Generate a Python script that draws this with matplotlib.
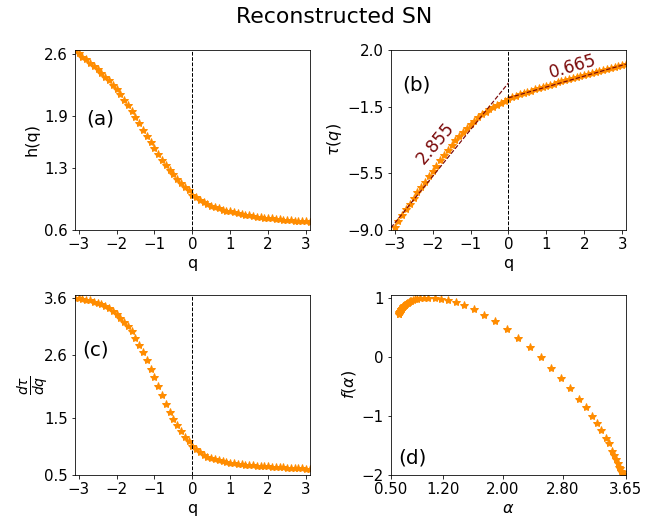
import numpy as np
import matplotlib
matplotlib.use("Agg")
import matplotlib.pyplot as plt

# moments q
q = [-3.1, -3.0, -2.9, -2.8, -2.7, -2.6, -2.5, -2.4, -2.3, -2.2, -2.1,
     -2.0, -1.9, -1.8, -1.7, -1.6, -1.5, -1.4, -1.3, -1.2, -1.1,
     -1.0, -0.9, -0.8, -0.7, -0.6, -0.5, -0.4, -0.3, -0.2, -0.1,
     0.0, 0.1, 0.2, 0.3, 0.4, 0.5, 0.6, 0.7, 0.8, 0.9,
     1.0, 1.1, 1.2, 1.3, 1.4, 1.5, 1.6, 1.7, 1.8, 1.9,
     2.0, 2.1, 2.2, 2.3, 2.4, 2.5, 2.6, 2.7, 2.8, 2.9,
     3.0, 3.1]

# generalized Hurst exponent h(q)
h = [2.64, 2.61, 2.57, 2.54, 2.50, 2.46, 2.43, 2.38, 2.34, 2.30, 2.25,
     2.20, 2.14, 2.08, 2.02, 1.95, 1.88, 1.81, 1.74, 1.67, 1.60,
     1.53, 1.46, 1.40, 1.34, 1.28, 1.23, 1.18, 1.13, 1.09, 1.05,
     1.00, 0.97, 0.945, 0.92, 0.895, 0.875, 0.86, 0.845, 0.83, 0.82,
     0.81, 0.80, 0.79, 0.78, 0.772, 0.765, 0.758, 0.752, 0.746, 0.741,
     0.736, 0.731, 0.727, 0.722, 0.718, 0.714, 0.71, 0.706, 0.703, 0.70,
     0.697, 0.694]

# mass exponent tau(q)
tau = [-9.184, -8.83, -8.453, -8.112, -7.75, -7.396, -7.075, -6.712, -6.382, -6.06, -5.725,
       -5.4, -5.066, -4.744, -4.434, -4.12, -3.82, -3.534, -3.262, -3.004, -2.76,
       -2.53, -2.314, -2.12, -1.938, -1.768, -1.615, -1.472, -1.339, -1.218, -1.105,
       -1.0, -0.903, -0.811, -0.724, -0.642, -0.563, -0.484, -0.409, -0.336, -0.262,
       -0.19, -0.12, -0.052, 0.014, 0.081, 0.148, 0.213, 0.278, 0.343, 0.408,
       0.472, 0.535, 0.599, 0.661, 0.723, 0.785, 0.846, 0.906, 0.968, 1.03,
       1.091, 1.151]

# singularity strength alpha = dtau/dq
alpha = [3.605, 3.595, 3.58, 3.57, 3.56, 3.54, 3.52, 3.49, 3.47, 3.42, 3.38,
         3.32, 3.26, 3.19, 3.11, 3.02, 2.90, 2.78, 2.65, 2.51, 2.36,
         2.21, 2.05, 1.90, 1.75, 1.61, 1.48, 1.37, 1.26, 1.17, 1.09,
         1.00, 0.945, 0.895, 0.855, 0.82, 0.795, 0.772, 0.754, 0.738, 0.724,
         0.712, 0.702, 0.693, 0.685, 0.678, 0.672, 0.666, 0.661, 0.656, 0.651,
         0.647, 0.643, 0.639, 0.635, 0.631, 0.627, 0.623, 0.619, 0.615, 0.611,
         0.607, 0.603]

# singularity spectrum f(alpha)
f_alpha = [-1.992, -1.955, -1.929, -1.884, -1.862, -1.808, -1.725, -1.664, -1.599, -1.464, -1.373,
           -1.24, -1.128, -0.998, -0.853, -0.712, -0.53, -0.358, -0.183, -0.008, 0.164,
           0.32, 0.469, 0.60, 0.713, 0.802, 0.875, 0.924, 0.961, 0.984, 0.996,
           1.00, 0.998, 0.99, 0.981, 0.97, 0.96, 0.947, 0.936, 0.926, 0.914,
           0.902, 0.892, 0.884, 0.877, 0.868, 0.861, 0.853, 0.845, 0.838, 0.829,
           0.822, 0.815, 0.806, 0.80, 0.791, 0.783, 0.774, 0.765, 0.754, 0.742,
           0.73, 0.718]

# linear fits of tau for q<0 and q>0
slope_neg, icpt_neg = 2.855, -0.02
slope_pos, icpt_pos = 0.665, -0.93

q_ticks = [-3, -2, -1, 0, 1, 2, 3]
h_ticks = [0.6, 1.3, 1.9, 2.6]
tau_ticks = [-9.0, -5.5, -1.5, 2.0]
dtau_ticks = [0.5, 1.5, 2.6, 3.6]
f_ticks = [-2, -1, 0, 1]
alpha_ticks = [0.50, 1.20, 2.00, 2.80, 3.65]

star_col = "darkorange"
fit_col = "#7b0a0a"

plt.rcParams["font.size"] = 16
plt.rcParams["xtick.labelsize"] = 15
plt.rcParams["ytick.labelsize"] = 15


def lab(vals, fmt):
    return [fmt.format(v).replace("-", "\u2212") for v in vals]


q = np.array(q)

fig, ax = plt.subplots(2, 2, figsize=(668 / 72, 520 / 72), dpi=72)
fig.subplots_adjust(left=0.112, right=0.937, bottom=0.087, top=0.904,
                    wspace=0.345, hspace=0.36)

ms = 8.5

# (a) h(q)
a = ax[0, 0]
a.plot(q, h, "*", color=star_col, ms=ms)
a.axvline(0, color="k", ls="--", lw=1)
a.set_xlim(-3.1, 3.1)
a.set_ylim(0.6, 2.645)
a.set_xticks(q_ticks)
a.set_yticks(h_ticks)
a.set_yticklabels(lab(h_ticks, "{:.1f}"))
a.set_xlabel("q")
a.set_ylabel("h(q)")
a.text(0.109, 0.614, "(a)", transform=a.transAxes, fontsize=20,
       ha="center", va="center")

# (b) tau(q)
b = ax[0, 1]
b.plot(q, tau, "*", color=star_col, ms=ms)
qn = q[q <= 0]
qp = q[q >= 0]
b.plot(qn, slope_neg * qn + icpt_neg, "--", color=fit_col, lw=1.2)
b.plot(qp, slope_pos * qp + icpt_pos, "--", color=fit_col, lw=1.2)
b.axvline(0, color="k", ls="--", lw=1)
b.set_xlim(-3.1, 3.1)
b.set_ylim(-9, 2)
b.set_xticks(q_ticks)
b.set_yticks(tau_ticks)
b.set_yticklabels(lab(tau_ticks, "{:.1f}"))
b.set_xlabel("q")
b.set_ylabel(r"$\tau(q)$")
b.text(-1.92, -3.7, f"{slope_neg:.3f}", color=fit_col, fontsize=17,
       rotation=50, ha="center", va="center")
b.text(1.69, 0.98, f"{slope_pos:.3f}", color=fit_col, fontsize=17,
       rotation=16, ha="center", va="center")
b.text(0.108, 0.803, "(b)", transform=b.transAxes, fontsize=20,
       ha="center", va="center")

# (c) dtau/dq
c = ax[1, 0]
c.plot(q, alpha, "*", color=star_col, ms=ms)
c.axvline(0, color="k", ls="--", lw=1)
c.set_xlim(-3.1, 3.1)
c.set_ylim(0.5, 3.66)
c.set_xticks(q_ticks)
c.set_yticks(dtau_ticks)
c.set_yticklabels(lab(dtau_ticks, "{:.1f}"))
c.set_xlabel("q")
c.set_ylabel(r"$\frac{d\tau}{dq}$", fontsize=20)
c.yaxis.set_label_coords(-0.10, 0.5)
c.text(0.089, 0.694, "(c)", transform=c.transAxes, fontsize=20,
       ha="center", va="center")

# (d) f(alpha)
d = ax[1, 1]
d.plot(alpha, f_alpha, "*", color=star_col, ms=ms)
d.set_xlim(0.5, 3.65)
d.set_ylim(-2.0, 1.05)
d.set_xticks(alpha_ticks)
d.set_xticklabels(lab(alpha_ticks, "{:.2f}"))
d.set_yticks(f_ticks)
d.set_yticklabels(lab(f_ticks, "{:d}"))
d.set_xlabel(r"$\alpha$")
d.set_ylabel(r"$f(\alpha)$")
d.text(0.092, 0.093, "(d)", transform=d.transAxes, fontsize=20,
       ha="center", va="center")

fig.suptitle("Reconstructed SN", fontsize=22, y=0.987, va="top")

fig.savefig("out.png", dpi=72)
